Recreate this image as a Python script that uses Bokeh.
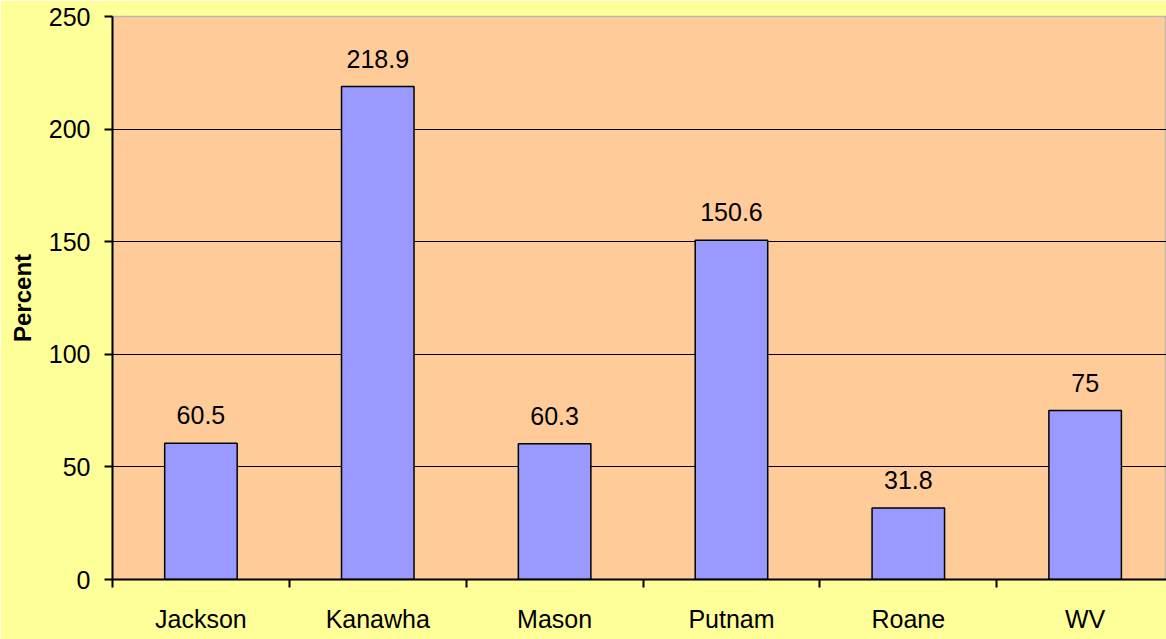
from bokeh.plotting import figure
from bokeh.models import Range1d, FixedTicker, ColumnDataSource
from bokeh.embed import file_html
from bokeh.resources import INLINE
from bokeh.core.properties import value

categories = ["Jackson", "Kanawha", "Mason", "Putnam", "Roane", "WV"]
percent = [60.5, 218.9, 60.3, 150.6, 31.8, 75]
value_labels = ["60.5", "218.9", "60.3", "150.6", "31.8", "75"]
y_ticks = [0, 50, 100, 150, 200, 250]

FONT = "Liberation Sans"
FS = "25px"

xs = [i + 0.5 for i in range(len(categories))]
src = ColumnDataSource(dict(x=xs, top=percent, label=value_labels))

# the plot area in the reference runs slightly past the right edge of the picture
p = figure(width=1166, height=639, output_backend="svg", toolbar_location=None,
           x_range=Range1d(0, len(categories) - 0.04), y_range=Range1d(0, 250),
           min_border_left=112, min_border_right=0, min_border_top=16, min_border_bottom=60)

p.background_fill_color = "#FFCC99"
p.border_fill_color = "#FFFF99"
p.outline_line_color = "#B8B8B8"
p.outline_line_width = 1.5

p.vbar(x="x", top="top", width=0.41, bottom=0, source=src,
       fill_color="#9999FF", line_color="black", line_width=1.5)

p.text(x="x", y="top", text="label", source=src, text_align="center",
       text_baseline="bottom", y_offset=-19, text_font=value(FONT),
       text_font_size=FS, text_color="black")

# x axis
xa = p.xaxis[0]
xa.ticker = FixedTicker(ticks=xs, minor_ticks=list(range(len(categories) + 1)))
xa.major_label_overrides = {x: c for x, c in zip(xs, categories)}
xa.major_tick_out = 0
xa.major_tick_in = 0
xa.minor_tick_out = 8
xa.minor_tick_in = 0
xa.minor_tick_line_color = "black"
xa.minor_tick_line_width = 2
xa.axis_line_color = "black"
xa.axis_line_width = 2
xa.major_label_standoff = 17
xa.major_label_text_font = FONT
xa.major_label_text_font_size = FS
xa.major_label_text_color = "black"

# y axis
ya = p.yaxis[0]
ya.ticker = FixedTicker(ticks=y_ticks)
ya.major_tick_out = 8
ya.major_tick_in = 0
ya.minor_tick_out = 0
ya.minor_tick_in = 0
ya.major_tick_line_color = "black"
ya.major_tick_line_width = 2
ya.axis_line_color = "black"
ya.axis_line_width = 2
ya.major_label_standoff = 14
ya.major_label_text_font = FONT
ya.major_label_text_font_size = FS
ya.major_label_text_color = "black"
ya.axis_label = "Percent"
ya.axis_label_text_font = FONT
ya.axis_label_text_font_style = "bold"
ya.axis_label_text_font_size = "24px"
ya.axis_label_text_color = "black"
ya.axis_label_standoff = 10

p.xgrid.grid_line_color = None
p.ygrid.ticker = FixedTicker(ticks=y_ticks[1:-1])
p.ygrid.grid_line_color = "black"
p.ygrid.grid_line_width = 1.2

open("out.html", "w").write(file_html(p, INLINE))
